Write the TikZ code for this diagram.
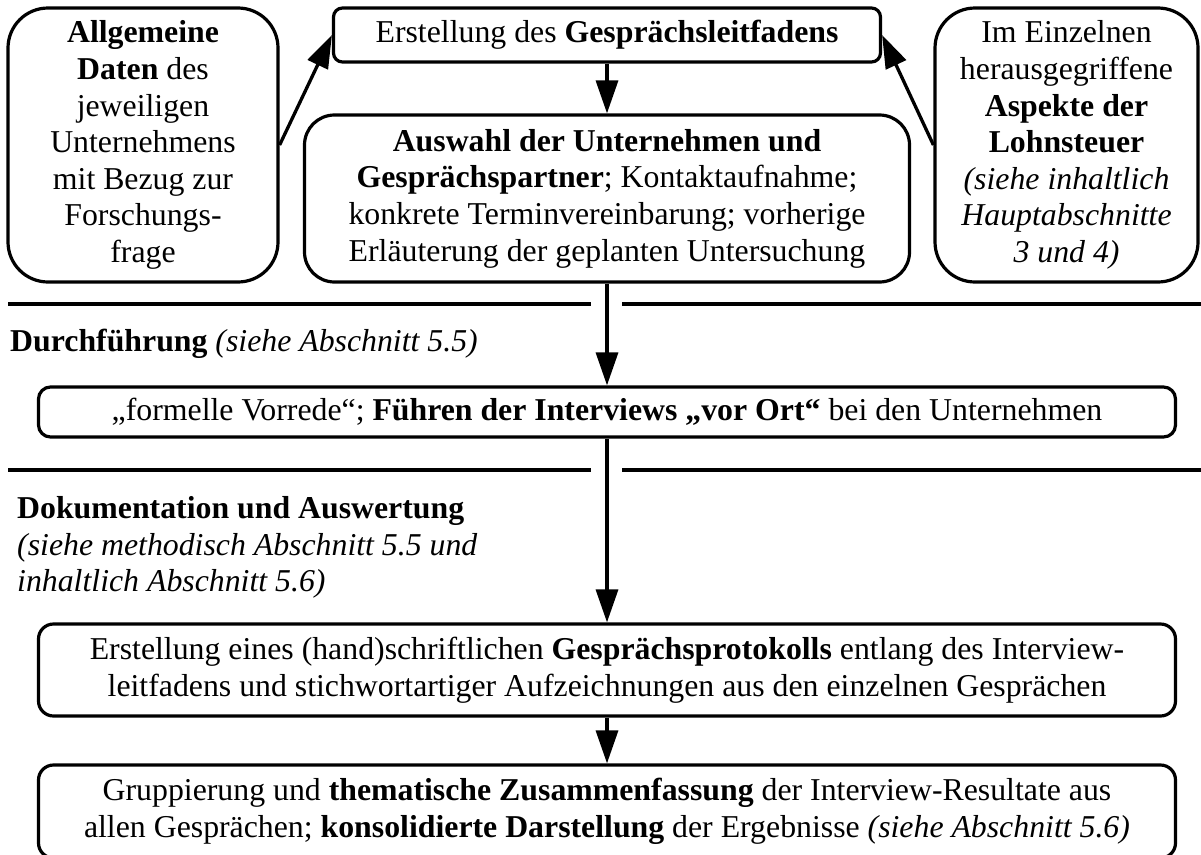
\documentclass[tikz,border=0pt]{standalone}
\usepackage{fontspec}
\setmainfont{Liberation Serif}
\usetikzlibrary{arrows.meta}
\newcommand\diagfont{\fontsize{31.8}{36.6}\selectfont}
\begin{document}
\begin{tikzpicture}[x=1pt,y=-1pt,
  box/.style={draw, line width=3.2pt, inner sep=0pt, align=center, font=\diagfont},
  label/.style={inner sep=0pt, anchor=base west, font=\diagfont},
  arr/.style={line width=3.3pt, -{Triangle[length=33pt,width=22pt]}},
  sep/.style={line width=4pt}]
\useasboundingbox (0,0) rectangle (1201,854);
\clip (0,0) rectangle (1201,854);

% planning stage
\node[box, rounded corners=40pt, minimum width=270pt, minimum height=274pt] (gen) at (143,145)
  {\textbf{Allgemeine}\\\textbf{Daten} des\\jeweiligen\\Unternehmens\\mit Bezug zur\\Forschungs-\\frage};
\node[box, rounded corners=9pt, minimum width=547pt, minimum height=54pt] (guide) at (607,35)
  {Erstellung des \textbf{Gesprächsleitfadens}};
\node[box, rounded corners=30pt, minimum width=605pt, minimum height=167pt] (sel) at (607,198.5)
  {\textbf{Auswahl der Unternehmen und}\\\textbf{Gesprächspartner}; Kontaktaufnahme;\\konkrete Terminvereinbarung; vorherige\\Erläuterung der geplanten Untersuchung};
\node[box, rounded corners=40pt, minimum width=263pt, minimum height=274pt] (asp) at (1066.5,145)
  {Im Einzelnen\\herausgegriffene\\\textbf{Aspekte der}\\\textbf{Lohnsteuer}\\\textit{(siehe inhaltlich}\\\textit{Hauptabschnitte}\\\textit{3 und 4)}};

% phase separators
\coordinate (s1a) at (8,304);   \coordinate (s1b) at (591,304);
\coordinate (s1c) at (622,304); \coordinate (s1d) at (1201,304);
\coordinate (s2a) at (8,470);   \coordinate (s2b) at (591,470);
\coordinate (s2c) at (622,470); \coordinate (s2d) at (1201,470);
\draw[sep] (s1a) -- (s1b) (s1c) -- (s1d);
\draw[sep] (s2a) -- (s2b) (s2c) -- (s2d);

% conduct stage
\node[label] (conducthead) at (10,351) {\textbf{Durchführung} \textit{(siehe Abschnitt 5.5)}};
\node[box, rounded corners=12pt, minimum width=1137pt, minimum height=50pt] (conduct) at (607,412)
  {„formelle Vorrede“; \textbf{Führen der Interviews „vor Ort“} bei den Unternehmen};

% documentation stage
\node[label] (dochead1) at (17,518) {\textbf{Dokumentation und Auswertung}};
\node[label] (dochead2) at (17,555) {\textit{(siehe methodisch Abschnitt 5.5 und}};
\node[label] (dochead3) at (17,591) {\textit{inhaltlich Abschnitt 5.6)}};
\node[box, rounded corners=15pt, minimum width=1137pt, minimum height=92pt] (proto) at (607,670)
  {Erstellung eines (hand)schriftlichen \textbf{Gesprächsprotokolls} entlang des Interview-\\leitfadens und stichwortartiger Aufzeichnungen aus den einzelnen Gesprächen};
\node[box, rounded corners=15pt, minimum width=1137pt, minimum height=93pt] (summ) at (607,811.5)
  {Gruppierung und \textbf{thematische Zusammenfassung} der Interview-Resultate aus\\allen Gesprächen; \textbf{konsolidierte Darstellung} der Ergebnisse \textit{(siehe Abschnitt 5.6)}};

% flow
\draw[arr] (gen.east) -- (guide.west);
\draw[arr] (asp.west) -- (guide.east);
\draw[arr] (guide.south) -- (sel.north);
\draw[arr] (sel.south) -- (conduct.north);
\draw[arr] (conduct.south) -- (proto.north);
\draw[arr] (proto.south) -- (summ.north);
\end{tikzpicture}
\end{document}
